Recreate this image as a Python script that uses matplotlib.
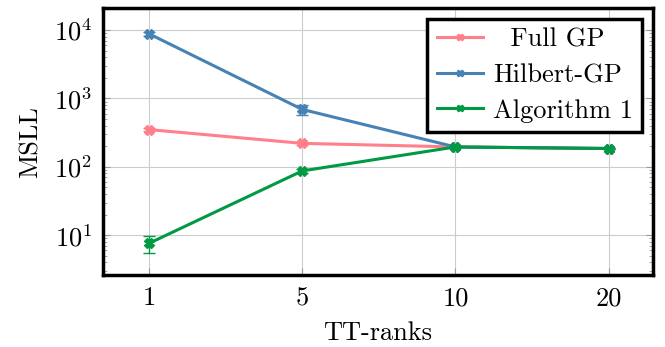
import numpy as np
import matplotlib.pyplot as plt
from matplotlib.lines import Line2D
from matplotlib.ticker import LogLocator, NullFormatter

plt.rcParams['font.family'] = 'serif'
plt.rcParams['font.serif'] = ['cmr10', 'DejaVu Serif']
plt.rcParams['mathtext.fontset'] = 'cm'
plt.rcParams['axes.formatter.use_mathtext'] = True

ranks = ['1', '5', '10', '20']
full_gp = [350, 220, 195, 185]
full_gp_err = [15, 10, 5, 5]
hilbert_gp = [8800, 690, 195, 185]
hilbert_gp_err = [600, 120, 5, 5]
algo1 = [7.6, 87, 195, 185]
algo1_err = [2.1, 6, 5, 5]

colors = ['#ff7f8a', '#4682b4', '#009944']
# leading spaces roughly centre the shorter label like the original
names = ['  Full GP', 'Hilbert-GP', 'Algorithm 1']

fig = plt.figure(figsize=(6.65, 3.47), dpi=100)
ax = fig.add_axes([0.155, 0.207, 0.827, 0.77])

x = np.arange(len(ranks))
for vals, errs, c in zip([full_gp, hilbert_gp, algo1],
                         [full_gp_err, hilbert_gp_err, algo1_err], colors):
    ax.errorbar(x, vals, yerr=errs, color=c, lw=2.2, marker='X', ms=7,
                capsize=4, elinewidth=1)

ax.set_yscale('log')
ax.set_ylim(2.6, 2.1e4)
ax.set_xlim(-0.3, 3.29)
ax.set_xticks(x)
ax.set_xticklabels(ranks)
ax.yaxis.set_minor_locator(LogLocator(base=10, subs=np.arange(2, 10)))
ax.yaxis.set_minor_formatter(NullFormatter())
ax.tick_params(which='both', direction='in', color='#999999', labelsize=19)
ax.tick_params(which='major', length=5, pad=8)
ax.tick_params(which='minor', length=3)
ax.tick_params(axis='y', which='both', right=True)
ax.grid(True, which='major', color='#cccccc', lw=0.8)
ax.set_axisbelow(True)
for s in ax.spines.values():
    s.set_linewidth(2.5)

ax.set_xlabel('TT-ranks', fontsize=19, labelpad=8)
ax.set_ylabel('MSLL', fontsize=19, labelpad=8)

handles = [Line2D([], [], color=c, lw=2.2, marker='X', ms=5) for c in colors]
leg = ax.legend(handles, names, loc='upper right', fontsize=19, fancybox=False,
                framealpha=1, edgecolor='black', borderpad=0.35,
                handlelength=1.75, handletextpad=0.4, labelspacing=0.45,
                borderaxespad=0.4)
leg.get_frame().set_linewidth(2.5)

fig.savefig('out.png')
